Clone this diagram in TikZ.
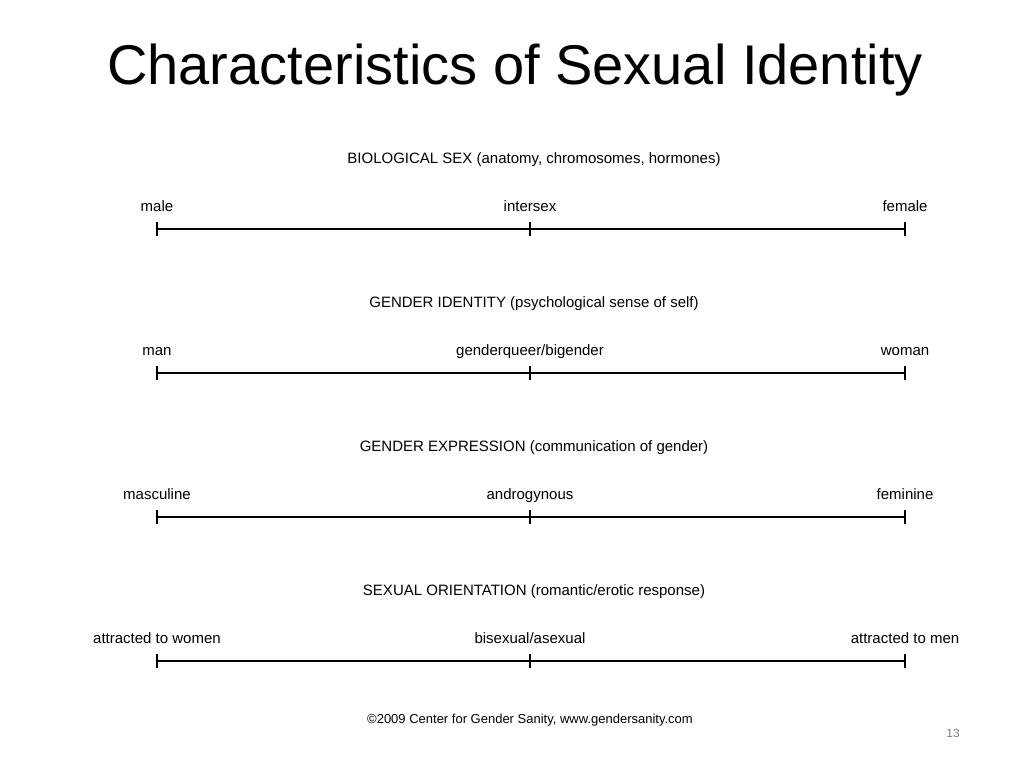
\documentclass[tikz,border=0pt]{standalone}
\usepackage{fontspec}
\setmainfont{Liberation Sans}
\begin{document}
\begin{tikzpicture}[x=1pt,y=-1pt,
  hdr/.style={font=\fontsize{15}{17}\selectfont, anchor=base},
  lbl/.style={font=\fontsize{15}{17}\selectfont, anchor=base},
  scale line/.style={line width=1.3pt},
  tickmark/.style={line width=1.3pt}]
\useasboundingbox[fill=white] (0,0) rectangle (1024,768);
\node[font=\fontsize{56}{60}\selectfont, anchor=base] (title) at (515,84) {Characteristics of Sexual Identity};
\foreach \y/\h/\a/\b/\c [count=\i] in {
  229/{BIOLOGICAL SEX (anatomy, chromosomes, hormones)}/male/intersex/female,
  373/{GENDER IDENTITY (psychological sense of self)}/man/genderqueer\slash bigender/woman,
  517/{GENDER EXPRESSION (communication of gender)}/masculine/androgynous/feminine,
  661/{SEXUAL ORIENTATION (romantic\slash erotic response)}/attracted to women/bisexual\slash asexual/attracted to men}{
  \coordinate (l\i) at (157,\y);
  \coordinate (m\i) at (530,\y);
  \coordinate (r\i) at (905,\y);
  \draw[scale line] (l\i) -- (r\i);
  \foreach \p in {l,m,r} {\draw[tickmark] ([yshift=-7]\p\i) -- ([yshift=7]\p\i);}
  \node[hdr] (h\i) at (534,\y-66) {\h};
  \node[lbl] (a\i) at (157,\y-18) {\a};
  \node[lbl] (b\i) at (530,\y-18) {\b};
  \node[lbl] (c\i) at (905,\y-18) {\c};
}
\node[font=\fontsize{13}{15}\selectfont] (copy) at (530,720) {\textcopyright2009 Center for Gender Sanity, www.gendersanity.com};
\node[font=\fontsize{12}{14}\selectfont, text=gray] (pg) at (953,733) {13};
\end{tikzpicture}
\end{document}
